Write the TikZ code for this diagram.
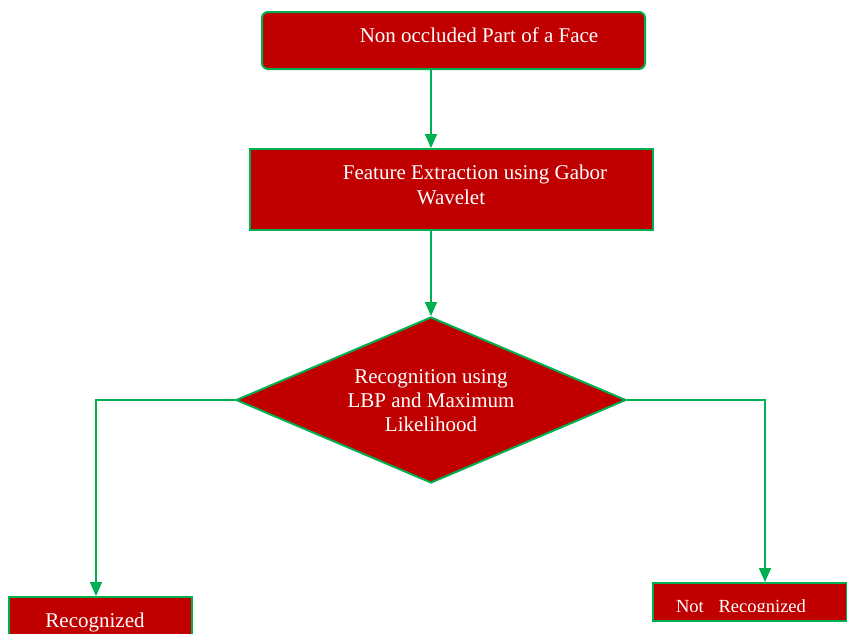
\documentclass[tikz,border=0pt]{standalone}
\usepackage{fontspec}
\setmainfont{Liberation Serif}
\usetikzlibrary{shapes.geometric,arrows.meta,calc}
\definecolor{boxred}{HTML}{C00000}
\definecolor{linegreen}{HTML}{00B050}
\begin{document}
\begin{tikzpicture}[x=1pt,y=-1pt,
  box/.style={draw=linegreen,fill=boxred,line width=2pt,inner sep=0pt,anchor=north west},
  lbl/.style={text=white,font=\fontsize{21}{24.5}\selectfont,anchor=base,inner sep=0pt},
  conn/.style={draw=linegreen,line width=1.5pt,-{Triangle[length=14pt,width=12pt]}}]
\useasboundingbox (0,0) rectangle (847,633);
\clip (0,0) rectangle (847,633);
% boxes
\node[box,rounded corners=6pt,minimum width=383pt,minimum height=57pt] (face) at (261,11) {};
\node[box,minimum width=403pt,minimum height=81pt] (feat) at (249,148) {};
\node[draw=linegreen,fill=boxred,line width=2pt,diamond,inner sep=0pt,
      minimum width=390pt,minimum height=166pt] (dia) at (431,400) {};
\node[box,minimum width=183pt,minimum height=60pt] (rec) at (8,596) {};
\node[box,minimum width=194pt,minimum height=38pt] (nrec) at (652,582) {};
% texts
\node[lbl] (tface) at (479,42) {Non occluded Part of a Face};
\node[lbl] (tfeat1) at (475,179) {Feature Extraction using Gabor};
\node[lbl] (tfeat2) at (451,204) {Wavelet};
\node[lbl] (tdia1) at (431,383) {Recognition using};
\node[lbl] (tdia2) at (431,407) {LBP and Maximum};
\node[lbl] (tdia3) at (431,431.5) {Likelihood};
\node[lbl] (trec) at (95,627) {Recognized};
\begin{scope}
\clip (652,582) rectangle (846,611);
\node[lbl,font=\fontsize{18.5}{22}\selectfont] (tnrec) at (741,612) {Not\hspace{0.8em}Recognized};
\end{scope}
% connectors
\draw[conn] (face.south -| dia.north) -- (feat.north -| dia.north);
\draw[conn] (feat.south -| dia.north) -- (dia.north);
\draw[conn] (dia.west) -| ($(rec.north west)+(88,0)$);
\draw[conn] (dia.east) -| ($(nrec.north west)+(113,0)$);
\end{tikzpicture}
\end{document}
